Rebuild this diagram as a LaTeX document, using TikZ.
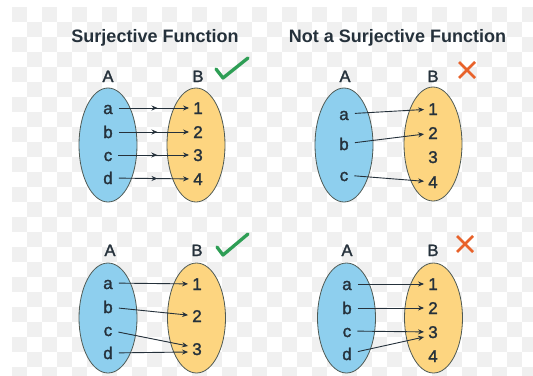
\documentclass[tikz,border=0pt]{standalone}
\usepackage{fontspec}
\setmainfont{Liberation Sans}
\newfontfamily\medfont[FakeBold=1.6]{Liberation Sans}
\usetikzlibrary{arrows.meta,decorations.markings,shapes.geometric}
\definecolor{setA}{HTML}{8ECFEE}
\definecolor{setB}{HTML}{FDD580}
\definecolor{edge}{HTML}{4F5A55}
\definecolor{ink}{HTML}{25313B}
\definecolor{okgreen}{HTML}{2E9E55}
\definecolor{nogood}{HTML}{E8622A}
\definecolor{chk}{HTML}{F0F0F0}
\begin{document}
\begin{tikzpicture}[x=1pt,y=-1pt,
  seta/.style={ellipse, draw=edge, line width=0.8pt, fill=setA, inner sep=0pt, minimum width=58pt, minimum height=114pt},
  setb/.style={seta, fill=setB},
  elem/.style={font=\medfont\fontsize{17}{17}\selectfont, text=ink, text height=12pt, text depth=0pt, inner ysep=1pt, inner xsep=6pt},
  num/.style={elem, inner xsep=4pt},
  setlabel/.style={font=\medfont\fontsize{16.5}{16.5}\selectfont, text=ink, anchor=base, inner sep=0pt},
  title/.style={font=\fontsize{18}{18}\selectfont\bfseries, text=ink, anchor=base, inner sep=0pt},
  arr/.style={draw=ink, line width=0.9pt, -{Stealth[length=6pt,width=5pt]}},
  midarr/.style={arr, postaction={decorate}, decoration={markings, mark=at position 0.55 with {\arrow{Stealth[length=6pt,width=5pt]}}}},
  checkmark/.style={draw=okgreen, line width=3.3pt, line cap=round, line join=round},
  crossmark/.style={draw=nogood, line width=2.6pt},
]
\useasboundingbox (0,0) rectangle (533,375);
\fill[white] (0,0) rectangle (533,375);
\begin{scope}
\clip (12,7) rectangle (533,375);
\foreach \i in {0,...,17} \foreach \j in {0,...,12} {
  \fill[chk] (12+30*\i,7+30*\j) rectangle +(15,15);
  \fill[chk] (27+30*\i,22+30*\j) rectangle +(15,15);
}
\end{scope}

% ---------- top left ----------
\node[title] (t1) at (155,42) {Surjective Function};
\node[setlabel] (tlA) at (108,82) {A};
\node[setlabel] (tlB) at (198,82) {B};
\draw[checkmark] (216,69) -- (223,78) -- (248,58);
\node[seta] (tlSA) at (108,145) {};
\node[setb] (tlSB) at (196,145) {};
\node[elem] (tla) at (108,108) {a};
\node[elem] (tlb) at (108,132) {b};
\node[elem] (tlc) at (108,155) {c};
\node[elem] (tld) at (108,178) {d};
\node[num] (tl1) at (198,108) {1};
\node[num] (tl2) at (198,132) {2};
\node[num] (tl3) at (198,155) {3};
\node[num] (tl4) at (198,179) {4};
\draw[midarr] (tla) -- (tl1);
\draw[midarr] (tlb) -- (tl2);
\draw[midarr] (tlc) -- (tl3);
\draw[midarr] (tld) -- (tl4);

% ---------- top right ----------
\node[title] (t2) at (397.5,42) {Not a Surjective Function};
\node[setlabel] (trA) at (345,82) {A};
\node[setlabel] (trB) at (433,82) {B};
\draw[crossmark] (459,62) -- (475,78) (475,62) -- (459,78);
\node[seta] (trSA) at (344,145) {};
\node[setb] (trSB) at (433,144) {};
\node[elem] (tra) at (344,114) {a};
\node[elem] (trb) at (344,144) {b};
\node[elem] (trc) at (344,175) {c};
\node[num] (tr1) at (433,109) {1};
\node[num] (tr2) at (433,133) {2};
\node[num] (tr3) at (433,157) {3};
\node[num] (tr4) at (433,182) {4};
\draw[arr] (tra) -- (tr1);
\draw[arr] (trb) -- (tr2);
\draw[arr] (trc) -- (tr4);

% ---------- bottom left ----------
\node[setlabel] (blA) at (110,256) {A};
\node[setlabel] (blB) at (197,256) {B};
\draw[checkmark] (217,247) -- (223,255) -- (248,234);
\node[seta, minimum height=110pt] (blSA) at (108,318) {};
\node[setb, minimum height=110pt] (blSB) at (196.5,318) {};
\node[elem] (bla) at (108,283) {a};
\node[elem] (blb) at (108,307) {b};
\node[elem] (blc) at (108,330) {c};
\node[elem] (bld) at (108,353) {d};
\node[num] (bl1) at (197,284) {1};
\node[num] (bl2) at (197,316) {2};
\node[num] (bl3) at (197,349) {3};
\draw[arr] (bla) -- (bl1);
\draw[arr] (blb) -- (bl2);
\draw[arr] (blc) -- ([yshift=3pt]bl3.west);
\draw[arr] (bld) -- ([yshift=-3pt]bl3.west);

% ---------- bottom right ----------
\node[setlabel] (brA) at (347,256) {A};
\node[setlabel] (brB) at (433,256) {B};
\draw[crossmark] (457,236) -- (473,252) (473,236) -- (457,252);
\node[seta, minimum height=110pt] (brSA) at (346.5,318) {};
\node[setb, minimum height=110pt] (brSB) at (433.5,318) {};
\node[elem] (bra) at (347,284) {a};
\node[elem] (brb) at (347,308) {b};
\node[elem] (brc) at (347,331) {c};
\node[elem] (brd) at (347,354) {d};
\node[num] (br1) at (433,284) {1};
\node[num] (br2) at (433,308) {2};
\node[num] (br3) at (433,332) {3};
\node[num] (br4) at (433,356) {4};
\draw[arr] (bra) -- (br1);
\draw[arr] (brb) -- (br2);
\draw[arr] (brc) -- (br3);
\draw[arr] (brd) -- ([yshift=-5pt]br3.west);
\end{tikzpicture}
\end{document}
